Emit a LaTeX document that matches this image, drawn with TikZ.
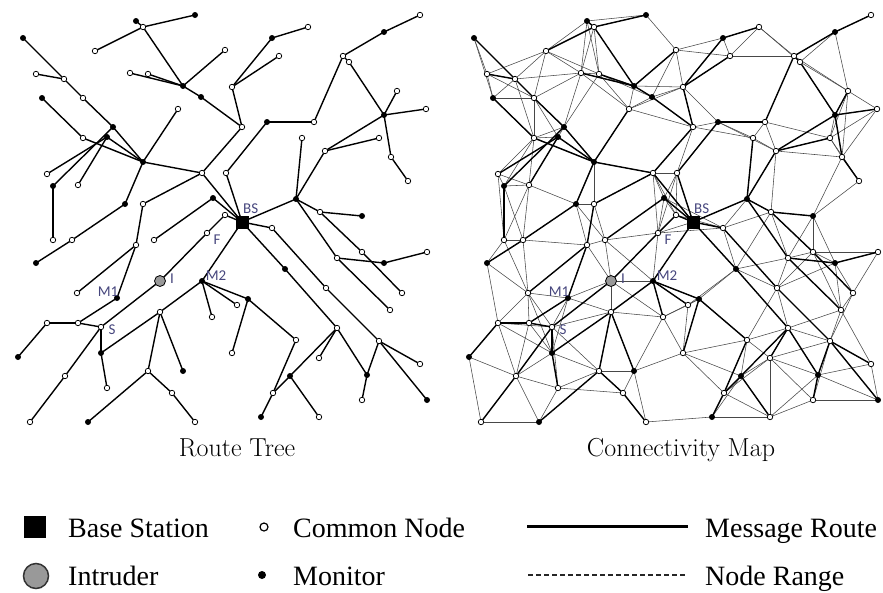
\documentclass[tikz,border=0pt]{standalone}
\usepackage{fontspec}
\newfontfamily\legendfont{Liberation Serif}
\newfontfamily\labfont{Carlito}
\definecolor{labcol}{RGB}{70,70,125}
\begin{document}
\begin{tikzpicture}[x=1pt,y=-1pt,
  mkh/.style={circle,draw=black,line width=0.75pt,fill=white,inner sep=0pt,minimum size=5.5pt},
  mkf/.style={circle,fill=black,inner sep=0pt,minimum size=6pt},
  mkb/.style={rectangle,fill=black,inner sep=0pt,minimum size=13pt},
  mki/.style={circle,draw=black,line width=0.8pt,fill=black!40,inner sep=0pt,minimum size=11pt},
  route/.style={line width=1.4pt,black},
  rangeline/.style={line width=0.55pt,black!72},
  lab/.style={font=\labfont\fontsize{15}{15}\selectfont,text=labcol,inner sep=0pt},
  legtext/.style={font=\legendfont\fontsize{28}{28}\selectfont,inner sep=0pt,anchor=base west},
  captext/.style={font=\fontsize{26}{26}\selectfont,inner sep=0pt,anchor=base}]
\path[use as bounding box] (0,0) rectangle (883,592);
\def\nodelist{a1/195/15/f, a2/136/21/f, a3/143/27/h, a4/95/51/h, a5/23/38/f, a6/225/50/h, a7/36/74/h, a8/64/79/h, a9/130/73/h, a10/148/74/h, a11/183/86/f, a12/201/97/f, a13/42/98/f, a14/83/98/h, a15/178/109/h, a16/113/127/f, a17/107/137/f, a18/83/138/h, a19/143/162/f, a20/202/173/h, a21/47/174/h, a22/53/186/f, a23/78/185/h, a24/125/204/f, a25/143/204/h, a26/213/198/f, a27/226/173/h, a28/420/15/h, a29/384/32/f, a30/343/56/h, a31/349/62/h, a32/308/27/h, a33/272/38/f, a34/279/56/h, a35/232/87/h, a36/242/127/h, a37/267/122/f, a38/314/122/h, a39/397/91/h, a40/426/109/h, a41/384/115/f, a42/379/138/h, a43/325/151/h, a44/391/157/h, a45/408/181/h, a46/302/138/h, a47/296/199/f, BS/242/222/b, a48/225/215/h, a49/53/240/h, a50/72/240/h, a51/36/263/f, a52/136/245/h, a53/154/240/h, F/207/233/h, a54/77/293/h, M1/117/298/f, I/160/281/i, M2/202/281/f, a55/212/317/h, a56/47/323/h, a57/78/323/h, S/101/327/h, a58/18/357/f, a59/101/353/f, a60/107/388/h, a61/160/312/h, a62/148/371/h, a63/183/371/f, a64/65/376/h, a65/172/393/h, a66/30/422/h, a67/88/422/f, a68/195/422/h, a69/272/228/h, a70/320/212/h, a71/362/216/f, a72/427/252/h, a73/362/252/h, a74/384/263/f, a75/337/258/h, a76/402/293/h, a77/390/310/h, a78/285/269/f, a79/326/288/h, a80/248/299/f, a81/237/305/h, a82/232/353/h, a83/296/340/h, a84/337/328/h, a85/379/341/h, a86/420/364/h, a87/367/375/f, a88/362/400/h, a89/427/400/f, a90/319/358/h, a91/290/376/f, a92/273/393/h, a93/261/417/f, a94/319/417/h}
\def\edgelist{a1/a3, a2/a3, a3/a4, a3/a11, a9/a11, a10/a11, a6/a11, a11/a12, a12/a36, a5/a8, a7/a8, a8/a14, a14/a16, a16/a19, a17/a19, a18/a19, a13/a18, a21/a17, a22/a16, a23/a17, a22/a49, a19/a15, a19/a24, a19/a20, a20/a36, a20/BS, a27/a37, a27/BS, a26/a53, a26/BS, a25/a20, a24/a50, a50/a51, a25/a52, a52/a54, a52/M1, a28/a29, a29/a30, a30/a31, a30/a38, a38/a37, a32/a33, a33/a35, a34/a35, a35/a36, a31/a41, a39/a41, a40/a41, a41/a43, a42/a43, a41/a44, a44/a45, a43/a47, a46/a47, a47/BS, a47/a70, a70/a71, a47/a75, a75/a77, a75/a74, a74/a72, a70/a73, a73/a76, BS/a69, a69/a79, a79/a85, a85/a89, a85/a86, a85/a87, a84/a87, a87/a88, BS/a78, a78/a84, a84/a90, a84/a91, a91/a92, a92/a93, a91/a94, a83/a92, M2/a80, M2/a81, a80/a82, a80/a83, S/I, I/F, F/a48, a48/BS, M2/BS, M1/a57, a57/a56, a57/S, a56/a58, S/a59, a59/a60, S/a64, a64/a66, a59/a61, a61/M2, M2/a55, a61/a62, a62/a67, a62/a65, a65/a68, a61/a63}
% coordinates
\foreach \n/\x/\y/\t in \nodelist {
  \coordinate (L\n) at (\x,\y);
  \coordinate (R\n) at (\x+451,\y);
}
% range links (connectivity map)
\foreach \na/\xa/\ya/\ta [count=\i] in \nodelist {
  \foreach \nb/\xb/\yb/\tb [count=\j] in \nodelist {
    \ifnum\j>\i
      \pgfmathsetmacro\dx{abs(\xb-\xa)}
      \pgfmathsetmacro\dy{abs(\yb-\ya)}
      \ifdim\dx pt<67pt
        \ifdim\dy pt<67pt
          \pgfmathsetmacro\dd{veclen(\dx,\dy)}
          \ifdim\dd pt<67pt
            \draw[rangeline] (R\na) -- (R\nb);
          \fi
        \fi
      \fi
    \fi
  }
}
% routes
\foreach \a/\b in \edgelist {
  \draw[route] (L\a) -- (L\b);
  \draw[route] (R\a) -- (R\b);
}
% markers
\foreach \n/\x/\y/\t in \nodelist {
  \node[mk\t] (mL\n) at (L\n) {};
  \node[mk\t] (mR\n) at (R\n) {};
}
% labels
\foreach \p in {L,R} {
  \node[lab,anchor=south west] (lbBS\p) at ([shift={(1,-8)}]\p BS) {BS};
  \node[lab] (lbF\p) at ([shift={(10,7)}]\p F) {F};
  \node[lab] (lbI\p) at ([shift={(12,-2)}]\p I) {I};
  \node[lab] (lbMa\p) at ([shift={(-9,-6)}]\p M1) {M1};
  \node[lab] (lbMb\p) at ([shift={(14,-5)}]\p M2) {M2};
  \node[lab] (lbS\p) at ([shift={(11,3)}]\p S) {S};
}
% captions
\node[captext] (cap1) at (237,456) {Route Tree};
\node[captext] (cap2) at (681,456) {Connectivity Map};
% legend
\node[mkb,minimum size=22pt] (lgbs) at (35,527) {};
\node[legtext] (lgbst) at (68,537) {Base Station};
\node[circle,draw=black!80,line width=1.5pt,fill=black!40,inner sep=0pt,minimum size=25pt] (lgi) at (36,576) {};
\node[legtext] (lgit) at (68,585) {Intruder};
\node[mkh,minimum size=8pt,line width=1.2pt] (lgc) at (264,527) {};
\node[legtext] (lgct) at (293,537) {Common Node};
\node[mkf,minimum size=8pt] (lgm) at (262,575) {};
\node[legtext] (lgmt) at (293,585) {Monitor};
\coordinate (lr1) at (527,526);
\coordinate (lr2) at (688,526);
\draw[line width=3pt] (lr1) -- (lr2);
\node[legtext] (lgrt) at (705,537) {Message Route};
\coordinate (ln1) at (528,575);
\coordinate (ln2) at (688,575);
\draw[line width=1.1pt,black!85,dash pattern=on 4.5pt off 3.5pt] (ln1) -- (ln2);
\node[legtext] (lgnt) at (705,585) {Node Range};
\end{tikzpicture}
\end{document}
